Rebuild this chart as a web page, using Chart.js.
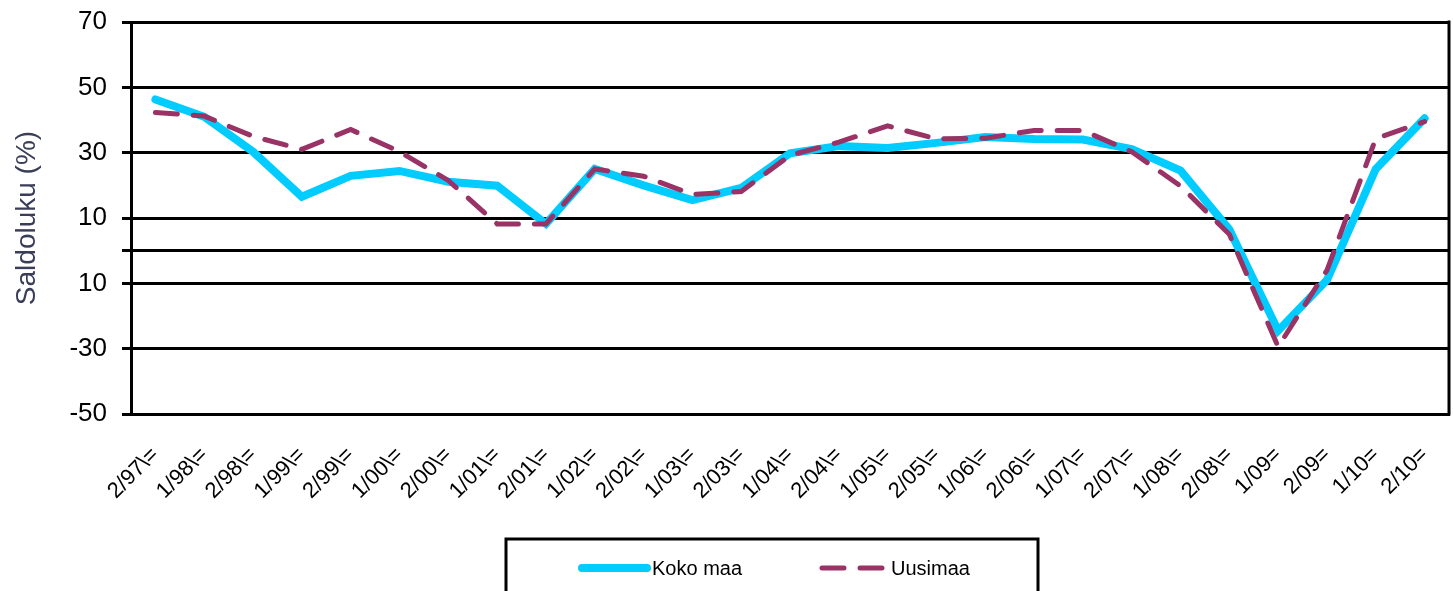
<!DOCTYPE html>
<html lang="fi">
<head>
<meta charset="UTF-8">
<title>Saldoluku</title>
<script src="https://cdn.jsdelivr.net/npm/chart.js"></script>
<style>
  body { margin: 0; background: #fff; }
  #wrap { width: 1453px; height: 591px; }
</style>
</head>
<body>
<div id="wrap">
  <canvas id="saldoChart" width="1453" height="591"></canvas>
</div>

<script>
// Data
const periods = ['2/97\\=', '1/98\\=', '2/98\\=', '1/99\\=', '2/99\\=', '1/00\\=', '2/00\\=',
  '1/01\\=', '2/01\\=', '1/02\\=', '2/02\\=', '1/03\\=', '2/03\\=', '1/04\\=', '2/04\\=',
  '1/05\\=', '2/05\\=', '1/06\\=', '2/06\\=', '1/07\\=', '2/07\\=', '1/08\\=', '2/08\\=',
  '1/09=', '2/09=', '1/10=', '2/10='];

const kokoMaa = [46.3, 41, 30.3, 16.5, 22.9, 24.4, 21.1, 19.9, 8.2, 25, 20, 15.5, 19.2, 29.8,
  32, 31.4, 33, 34.8, 34.2, 34, 31.1, 24.5, 6.5, -24.5, -9, 25, 40.5];

const uusimaa = [42.3, 41.2, 35, 31, 37.1, 30.3, 21.5, 8.2, 8.2, 25, 22.8, 17.2, 18.1, 29.2,
  33.2, 38.2, 34.2, 34.4, 36.8, 36.8, 30.3, 19.8, 5, -29.4, -6, 34.3, 39.5];

// y ticks as printed in the original (the -10 label shows as "10", 0 has no label)
const yTickValues = [70, 50, 30, 10, 0, -10, -30, -50];
const yTickLabels = ['70', '50', '30', '10', '', '10', '-30', '-50'];

Chart.defaults.font.family = "'Liberation Sans', Arial, sans-serif";
Chart.defaults.color = '#000';

// plot border on the right + boxed legend at the bottom
const frameAndLegend = {
  id: 'frameAndLegend',
  afterDraw(chart) {
    const ctx = chart.ctx;
    const area = chart.chartArea;
    ctx.save();
    ctx.strokeStyle = '#000';
    ctx.lineWidth = 3;
    ctx.beginPath();
    ctx.moveTo(area.right, area.top - 1.5);
    ctx.lineTo(area.right, area.bottom + 1.5);
    ctx.stroke();

    ctx.strokeRect(506, 539, 532, 70);

    const slots = [{ x: 582, len: 65, textX: 652 }, { x: 822, len: 62, textX: 891 }];
    const y = 568;
    chart.data.datasets.forEach((ds, i) => {
      const s = slots[i];
      ctx.strokeStyle = ds.borderColor;
      ctx.lineWidth = ds.borderWidth;
      ctx.lineCap = 'round';
      ctx.setLineDash(ds.borderDash || []);
      ctx.beginPath();
      ctx.moveTo(s.x, y);
      ctx.lineTo(s.x + s.len, y);
      ctx.stroke();
      ctx.setLineDash([]);
      ctx.fillStyle = '#000';
      ctx.font = "20px 'Liberation Sans', Arial, sans-serif";
      ctx.textBaseline = 'middle';
      ctx.textAlign = 'left';
      ctx.fillText(ds.label, s.textX, y + 1);
    });
    ctx.restore();
  }
};

const ctx = document.getElementById('saldoChart').getContext('2d');
const saldoChart = new Chart(ctx, {
  type: 'line',
  data: {
    labels: periods,
    datasets: [
      {
        label: 'Koko maa',
        data: kokoMaa,
        borderColor: '#00CCFF',
        borderWidth: 8,
        borderCapStyle: 'round',
        pointRadius: 0,
        tension: 0,
        order: 1
      },
      {
        label: 'Uusimaa',
        data: uusimaa,
        borderColor: '#993366',
        borderWidth: 5,
        borderDash: [22, 16],
        borderCapStyle: 'round',
        pointRadius: 0,
        tension: 0,
        order: 0
      }
    ]
  },
  options: {
    responsive: false,
    animation: false,
    layout: { padding: { left: 0, right: 4, top: 22, bottom: 0 } },
    plugins: {
      legend: { display: false },
      tooltip: { enabled: false }
    },
    scales: {
      x: {
        offset: true,
        grid: { display: false, drawTicks: false },
        border: { display: true, color: '#000', width: 3 },
        ticks: {
          autoSkip: false,
          minRotation: 45,
          maxRotation: 45,
          padding: 28,
          font: { size: 22 },
          color: '#000'
        },
        afterFit: scale => {
          scale.height = 177;
          scale.paddingLeft = 0;
          scale.paddingRight = 0;
        }
      },
      y: {
        min: -50,
        max: 70,
        afterBuildTicks: scale => {
          scale.ticks = yTickValues.map(v => ({ value: v }));
        },
        grid: { color: '#000', lineWidth: 3, tickLength: 9 },
        border: { display: true, color: '#000', width: 3 },
        ticks: {
          padding: 15,
          font: { size: 26 },
          color: '#000',
          callback: value => yTickLabels[yTickValues.indexOf(value)]
        },
        title: {
          display: true,
          text: 'Saldoluku (%)',
          color: '#3a3d58',
          font: { size: 28 },
          padding: { top: 10, bottom: 0 }
        },
        afterFit: scale => {
          scale.width = 131;
          scale.paddingTop = 0;
          scale.paddingBottom = 0;
        }
      }
    }
  },
  plugins: [frameAndLegend]
});
</script>
</body>
</html>
